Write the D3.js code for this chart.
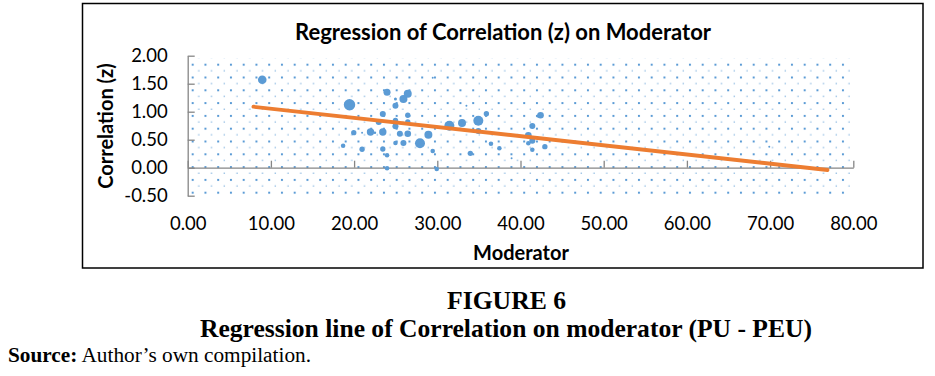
<!DOCTYPE html>
<meta charset="utf-8">
<head>
  <style>
    body { margin: 0; background: #ffffff; }
    .tick-label { font-family: Lato, sans-serif; font-size: 18.5px; fill: #000; }
    .chart-title { font-family: Lato, sans-serif; font-weight: bold; font-size: 22px; fill: #000; }
    .axis-title { font-family: Lato, sans-serif; font-weight: bold; font-size: 20px; fill: #000; }
    .caption { font-family: "Liberation Serif", "Times New Roman", serif; font-weight: bold; font-size: 25px; fill: #000; }
    .source { font-family: "Liberation Serif", "Times New Roman", serif; font-size: 20px; fill: #000; }
  </style>
  <script src="https://cdn.jsdelivr.net/npm/d3@7"></script>
</head>
<body>
  <div id="viz"></div>
</body>
<script>
/* Bubble data: moderator, correlation (z), bubble size */
var moderator = [8.96, 19.45, 19.96, 20.96, 18.68, 20.96, 23.96, 24.97, 25.93, 26.45,
                 24.97, 29.45, 33.5, 35.9, 23.45, 26.45, 22.96, 24.97, 26.45, 31.45,
                 32.97, 34.93, 34.93, 24.97, 21.97, 23.45, 22.5, 25.5, 26.45, 28.93,
                 24.97, 25.93, 27.92, 23.45, 29.45, 23.96, 33.97, 23.96, 29.93, 36.45,
                 37.46, 38.93, 41.42, 42.41, 42.09, 40.94, 41.42, 40.94, 41.42, 42.93,
                 69.9];
var correlation = [1.571, 1.125, 0.625, 0.625, 0.393, 0.33, 1.346, 1.227, 1.227, 1.321,
                   1.107, 1.607, 1.107, 0.964, 0.959, 0.936, 0.816, 0.846, 0.816, 0.75,
                   0.798, 0.839, 0.655, 0.739, 0.638, 0.638, 0.625, 0.607, 0.607, 0.589,
                   0.441, 0.441, 0.436, 0.334, 0.298, 0.221, 0.257, -0.011, -0.023, 0.429,
                   0.346, 0.168, 0.745, 0.936, 0.923, 0.579, 0.482, 0.436, 0.321, 0.375,
                   0.375];
var bubbleSize = [57, 100, 22, 3, 16, 22, 38, 7, 49, 49,
                  28, 3, 3, 22, 28, 22, 28, 22, 22, 77,
                  49, 77, 28, 28, 42, 42, 5, 28, 34, 49,
                  16, 28, 77, 22, 16, 16, 22, 16, 16, 16,
                  16, 3, 28, 34, 7, 34, 28, 16, 16, 22,
                  3];

/* Fitted regression line */
var trendStart = 7.9, trendEnd = 76.9;
var trendIntercept = 1.218, trendSlope = -0.01637;

var xTicks = [0, 10, 20, 30, 40, 50, 60, 70, 80];
var yTicks = [-0.5, 0, 0.5, 1, 1.5, 2];

var title = "Regression of Correlation (z) on Moderator";
var xTitle = "Moderator";
var yTitle = "Correlation (z)";

var svg = d3.select("#viz")
  .append("svg")
    .attr("width", 935)
    .attr("height", 376);

var x = d3.scaleLinear().domain([0, 80]).range([187.7, 853.3]);
var y = d3.scaleLinear().domain([-0.5, 2]).range([195.7, 55.7]);
var r = d3.scaleSqrt().domain([0, 100]).range([0, 5.7]);
/* plain hyphen for negatives, like the original */
var fmt = function(d) { return d.toFixed(2); };

/* chart frame */
svg.append("rect")
  .attr("x", 82.5).attr("y", 3.5)
  .attr("width", 840.5).attr("height", 264.5)
  .attr("fill", "none")
  .attr("stroke", "#000")
  .attr("stroke-width", 1.5);

/* dotted pattern fill of the plot area */
var pat = svg.append("defs").append("pattern")
  .attr("id", "dots")
  .attr("patternUnits", "userSpaceOnUse")
  .attr("x", 191.7).attr("y", 63.7)
  .attr("width", 12.75).attr("height", 12.8);
pat.append("rect")
  .attr("x", 0).attr("y", 0).attr("width", 2).attr("height", 2)
  .attr("fill", "#5b9bd5");
pat.append("rect")
  .attr("x", 6.5).attr("y", 6.5).attr("width", 1.2).attr("height", 1.2)
  .attr("fill", "#5b9bd5").attr("opacity", 0.85);

svg.append("rect")
  .attr("x", x(0)).attr("y", y(2) + 3)
  .attr("width", x(80) - x(0) - 2)
  .attr("height", y(-0.5) - y(2) - 2)
  .attr("fill", "url(#dots)");

/* y axis, ticks pointing inward */
var yAxis = svg.append("g")
  .attr("transform", "translate(" + x(0) + ",0)")
  .call(d3.axisLeft(y).tickValues(yTicks).tickSizeInner(-7).tickSizeOuter(0)
    .tickPadding(20).tickFormat(fmt));
yAxis.select(".domain").attr("stroke", "#868686").attr("stroke-width", 1.3);
yAxis.selectAll(".tick line").attr("stroke", "#868686").attr("stroke-width", 1.3);
yAxis.selectAll(".tick text")
  .attr("class", "tick-label")
  .attr("font-family", null).attr("font-size", null)
  .attr("dy", "0.32em");

/* x axis sits on zero, ticks pointing up */
var xAxis = svg.append("g")
  .attr("transform", "translate(0," + y(0) + ")")
  .call(d3.axisBottom(x).tickValues(xTicks).tickSizeInner(-7).tickSizeOuter(0).tickFormat(""));
xAxis.select(".domain").attr("stroke", "#868686").attr("stroke-width", 1.3);
xAxis.selectAll(".tick line").attr("stroke", "#868686").attr("stroke-width", 1.3);

/* x tick labels are placed below the plot area */
var xLabels = svg.append("g")
  .attr("transform", "translate(0,216)")
  .call(d3.axisBottom(x).tickValues(xTicks).tickSize(0).tickPadding(0).tickFormat(fmt));
xLabels.select(".domain").remove();
xLabels.selectAll(".tick text")
  .attr("class", "tick-label")
  .attr("font-family", null).attr("font-size", null)
  .attr("dy", "0.75em");

/* bubbles */
svg.selectAll(".bubble")
  .data(moderator)
  .enter()
  .append("circle")
    .attr("class", "bubble")
    .attr("cx", function(d) { return x(d); })
    .attr("cy", function(d, i) { return y(correlation[i]); })
    .attr("r", function(d, i) { return r(bubbleSize[i]); })
    .attr("fill", "#5b9bd5");

/* trend line */
svg.append("line")
  .attr("x1", x(trendStart))
  .attr("y1", y(trendIntercept + trendSlope * trendStart))
  .attr("x2", x(trendEnd))
  .attr("y2", y(trendIntercept + trendSlope * trendEnd))
  .attr("stroke", "#ed7d31")
  .attr("stroke-width", 3.8)
  .attr("stroke-linecap", "round");

/* titles */
svg.append("text")
  .attr("class", "chart-title")
  .attr("x", 503).attr("y", 40)
  .attr("text-anchor", "middle")
  .text(title);

svg.append("text")
  .attr("class", "axis-title")
  .attr("x", 521).attr("y", 260)
  .attr("text-anchor", "middle")
  .text(xTitle);

svg.append("text")
  .attr("class", "axis-title")
  .attr("transform", "translate(113,126) rotate(-90)")
  .attr("text-anchor", "middle")
  .text(yTitle);

/* figure caption below the chart */
svg.append("text")
  .attr("class", "caption")
  .attr("x", 447).attr("y", 309)
  .attr("textLength", 119)
  .attr("lengthAdjust", "spacingAndGlyphs")
  .text("FIGURE 6");

svg.append("text")
  .attr("class", "caption")
  .attr("x", 200).attr("y", 337)
  .attr("textLength", 612)
  .attr("lengthAdjust", "spacingAndGlyphs")
  .text("Regression line of Correlation on moderator (PU - PEU)");

var src = svg.append("text")
  .attr("class", "source")
  .attr("x", 8).attr("y", 362)
  .attr("textLength", 303)
  .attr("lengthAdjust", "spacingAndGlyphs");
src.append("tspan").attr("font-weight", "bold").text("Source:");
src.append("tspan").text(" Author\u2019s own compilation.");
</script>
